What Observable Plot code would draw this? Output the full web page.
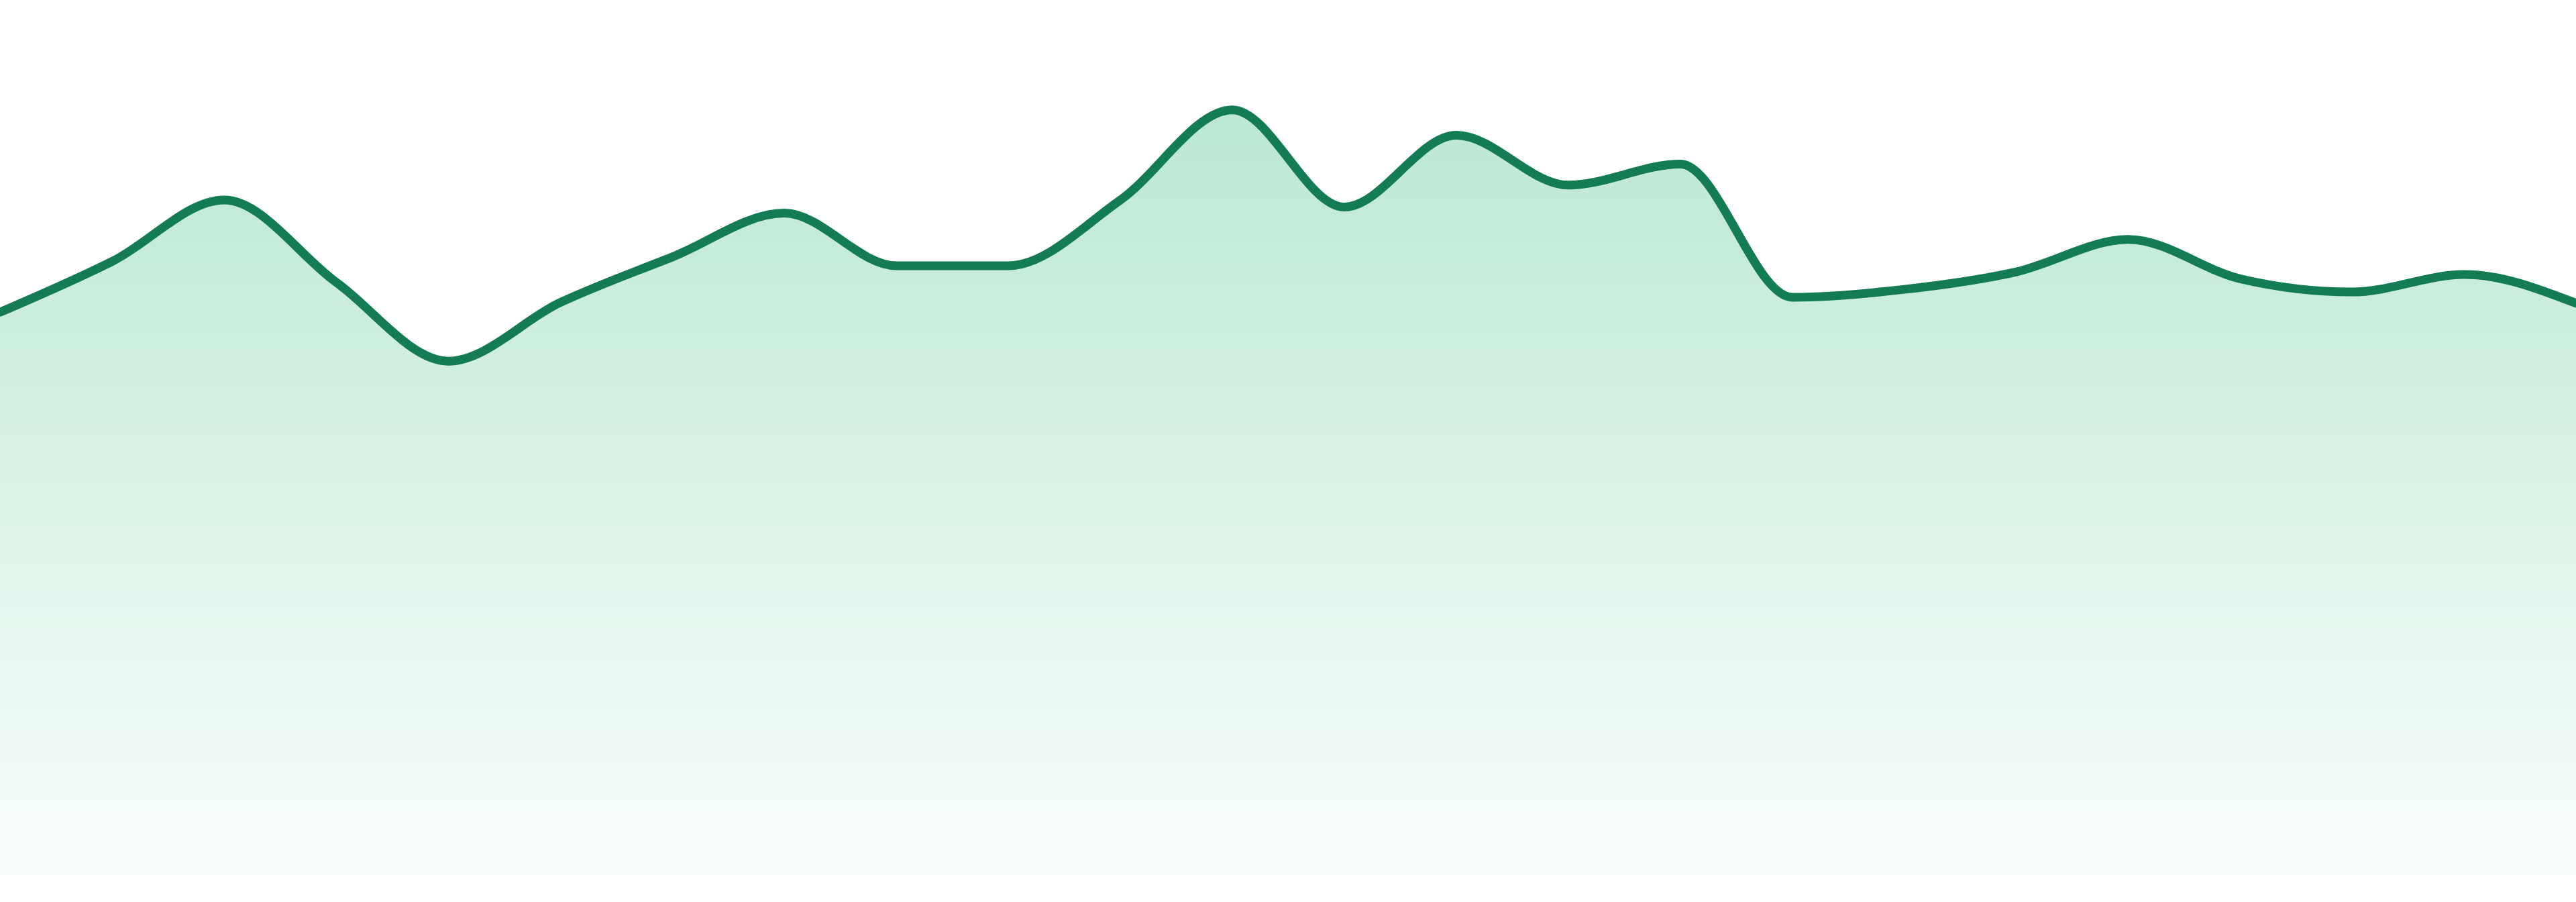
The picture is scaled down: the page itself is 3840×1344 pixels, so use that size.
<!DOCTYPE html>
<html>
<head>
<meta charset="utf-8">
<script src="https://cdn.jsdelivr.net/npm/d3@7"></script>
<script src="https://cdn.jsdelivr.net/npm/@observablehq/plot@0.6"></script>
<style>
  html, body { margin: 0; padding: 0; background: #ffffff; overflow: hidden; }
  #chart svg { display: block; }
</style>
</head>
<body>
<div id="chart"></div>
<script>
// Data
const steps = d3.range(24);
const values = [
  64.4, 70.2, 77.2, 67.8, 58.8, 65.5, 70.7, 75.7, 69.7, 69.7, 77.2, 87.5,
  76.4, 84.6, 78.9, 81.3, 66.1, 67.0, 69.0, 72.7, 68.2, 66.7, 68.7, 65.4
];
const data = steps.map((s, i) => ({ step: s, value: values[i] }));

const W = 3840, H = 1344;

function gradientDefs() {
  const ns = "http://www.w3.org/2000/svg";
  const defs = document.createElementNS(ns, "defs");
  const lg = document.createElementNS(ns, "linearGradient");
  lg.setAttribute("id", "areaGrad");
  lg.setAttribute("x1", "0"); lg.setAttribute("y1", "0");
  lg.setAttribute("x2", "0"); lg.setAttribute("y2", "1");
  const stops = [
    ["0%", "#34b978", 0.33],
    ["100%", "#34b978", 0.03]
  ];
  for (const [off, col, op] of stops) {
    const st = document.createElementNS(ns, "stop");
    st.setAttribute("offset", off);
    st.setAttribute("stop-color", col);
    st.setAttribute("stop-opacity", op);
    lg.appendChild(st);
  }
  defs.appendChild(lg);
  return defs;
}

const chart = Plot.plot({
  width: W,
  height: H,
  marginTop: 0,
  marginRight: 0,
  marginBottom: 39,
  marginLeft: 0,
  x: { domain: [0, 23], axis: null },
  y: { domain: [0, 100], axis: null },
  style: { background: "#ffffff", overflow: "hidden" },
  marks: [
    gradientDefs,
    Plot.areaY(data, { x: "step", y: "value", curve: "monotone-x", fill: "url(#areaGrad)" }),
    Plot.lineY(data, { x: "step", y: "value", curve: "monotone-x", stroke: "#137c52", strokeWidth: 13 })
  ]
});
document.getElementById("chart").appendChild(chart);
</script>
</body>
</html>
